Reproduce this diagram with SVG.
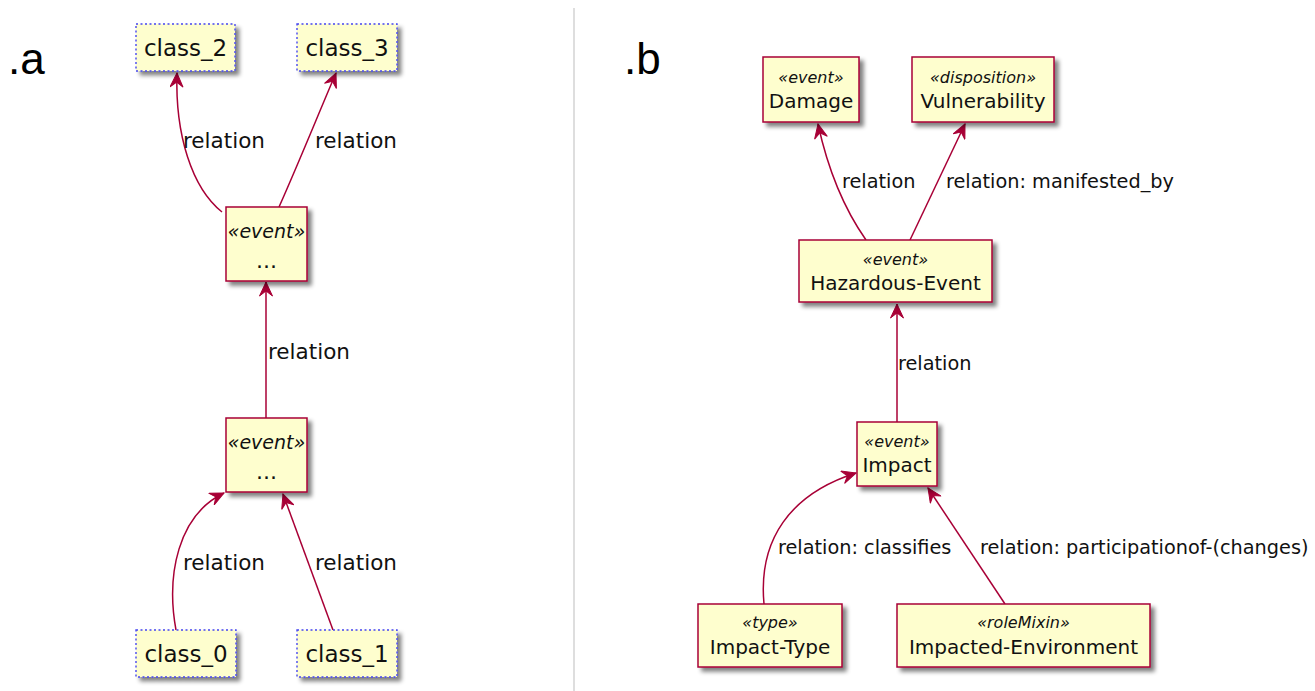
<svg xmlns="http://www.w3.org/2000/svg" width="1315" height="691" viewBox="0 0 1315 691">
  <style>
    .box { fill: #FEFECE; stroke: #A80036; stroke-width: 1.5; filter: url(#shadow); }
    .plain { fill: #FEFECE; stroke: #4646F0; stroke-width: 1.4; stroke-dasharray: 2 2.5; filter: url(#shadow); }
    .edge { fill: none; stroke: #A80036; stroke-width: 1.5; marker-end: url(#arrow); }
    text { font-family: "DejaVu Sans", "Liberation Sans", sans-serif; fill: #111; }
    .name { font-size: 23px; text-anchor: middle; }
    .nameb { font-size: 20px; text-anchor: middle; }
    .st { font-size: 19px; font-style: italic; text-anchor: middle; }
    .stb { font-size: 16px; font-style: italic; text-anchor: middle; }
    .dots { font-size: 22px; text-anchor: middle; }
    .lab { font-size: 21.5px; }
    .labb { font-size: 19.3px; }
    .panel { font-family: "Liberation Sans", Arial, sans-serif; font-size: 44px; fill: #000; }
  </style>
  <defs>
    <filter id="shadow" x="-20%" y="-20%" width="150%" height="160%">
      <feGaussianBlur in="SourceAlpha" stdDeviation="2.2"/>
      <feOffset dx="4" dy="4" result="b"/>
      <feComponentTransfer><feFuncA type="linear" slope="0.5"/></feComponentTransfer>
      <feMerge><feMergeNode/><feMergeNode in="SourceGraphic"/></feMerge>
    </filter>
    <marker id="arrow" viewBox="-15 -7 16 14" markerWidth="16" markerHeight="14" refX="0" refY="0" orient="auto" markerUnits="userSpaceOnUse">
      <path d="M0,0 L-14,-6.5 L-9,0 L-14,6.5 Z" fill="#A80036" stroke="#A80036" stroke-width="1"/>
    </marker>
  </defs>

  <rect width="1315" height="691" fill="#ffffff"/>

  <!-- panel captions and divider -->
  <text class="panel" x="8" y="74">.a</text>
  <text class="panel" x="624" y="74">.b</text>
  <line x1="574" y1="8" x2="574" y2="691" stroke="#c8c8c8" stroke-width="1.2"/>

  <!-- connectors -->
  <g id="connectors">
    <path class="edge" d="M222,212 C192,188 175,135 177,73"/>
    <path class="edge" d="M279,207 C300,160 320,110 336,73"/>
    <path class="edge" d="M266,418 L266,282"/>
    <path class="edge" d="M176,630 C166,575 178,515 224,493"/>
    <path class="edge" d="M333,630 L283,494"/>

    <path class="edge" d="M866,240 C845,210 828,170 818,124"/>
    <path class="edge" d="M910,240 L965,124"/>
    <path class="edge" d="M897,422 L897,304"/>
    <path class="edge" d="M764,604 C758,540 790,494 856,473"/>
    <path class="edge" d="M1005,604 L928,488"/>
  </g>

  <!-- edge labels -->
  <g id="edge-labels">
    <text class="lab" x="183" y="148">relation</text>
    <text class="lab" x="315" y="148">relation</text>
    <text class="lab" x="268" y="359">relation</text>
    <text class="lab" x="183" y="570">relation</text>
    <text class="lab" x="315" y="570">relation</text>

    <text class="labb" x="842" y="188">relation</text>
    <text class="labb" x="946" y="188">relation: manifested_by</text>
    <text class="labb" x="898" y="370">relation</text>
    <text class="labb" x="778" y="554">relation: classifies</text>
    <text class="labb" x="980" y="554">relation: participationof-(changes)</text>
  </g>

  <!-- panel a nodes -->
  <g id="class_2">
    <rect class="plain" x="136" y="24" width="99" height="47"/>
    <text class="name" x="185.5" y="56">class_2</text>
  </g>
  <g id="class_3">
    <rect class="plain" x="297" y="24" width="100" height="47"/>
    <text class="name" x="347" y="56">class_3</text>
  </g>
  <g id="event_upper">
    <rect class="box" x="226" y="207" width="81" height="74"/>
    <text class="st" x="266.5" y="238">«event»</text>
    <text class="dots" x="266.5" y="268">...</text>
  </g>
  <g id="event_lower">
    <rect class="box" x="226" y="418" width="81" height="74"/>
    <text class="st" x="266.5" y="449">«event»</text>
    <text class="dots" x="266.5" y="479">...</text>
  </g>
  <g id="class_0">
    <rect class="plain" x="136" y="630" width="100" height="47"/>
    <text class="name" x="186" y="662">class_0</text>
  </g>
  <g id="class_1">
    <rect class="plain" x="297" y="630" width="100" height="47"/>
    <text class="name" x="347" y="662">class_1</text>
  </g>

  <!-- panel b nodes -->
  <g id="damage">
    <rect class="box" x="763" y="57" width="96" height="65"/>
    <text class="stb" x="811" y="83">«event»</text>
    <text class="nameb" x="811" y="108">Damage</text>
  </g>
  <g id="vulnerability">
    <rect class="box" x="912" y="57" width="142" height="65"/>
    <text class="stb" x="983" y="83">«disposition»</text>
    <text class="nameb" x="983" y="108">Vulnerability</text>
  </g>
  <g id="hazardous-event">
    <rect class="box" x="799" y="240" width="193" height="62"/>
    <text class="stb" x="895.5" y="265">«event»</text>
    <text class="nameb" x="895.5" y="290">Hazardous-Event</text>
  </g>
  <g id="impact">
    <rect class="box" x="857" y="422" width="80" height="64"/>
    <text class="stb" x="897" y="447">«event»</text>
    <text class="nameb" x="897" y="472">Impact</text>
  </g>
  <g id="impact-type">
    <rect class="box" x="698" y="604" width="144" height="63"/>
    <text class="stb" x="770" y="628">«type»</text>
    <text class="nameb" x="770" y="654">Impact-Type</text>
  </g>
  <g id="impacted-environment">
    <rect class="box" x="897" y="604" width="253" height="63"/>
    <text class="stb" x="1023.5" y="628">«roleMixin»</text>
    <text class="nameb" x="1023.5" y="654">Impacted-Environment</text>
  </g>
</svg>
